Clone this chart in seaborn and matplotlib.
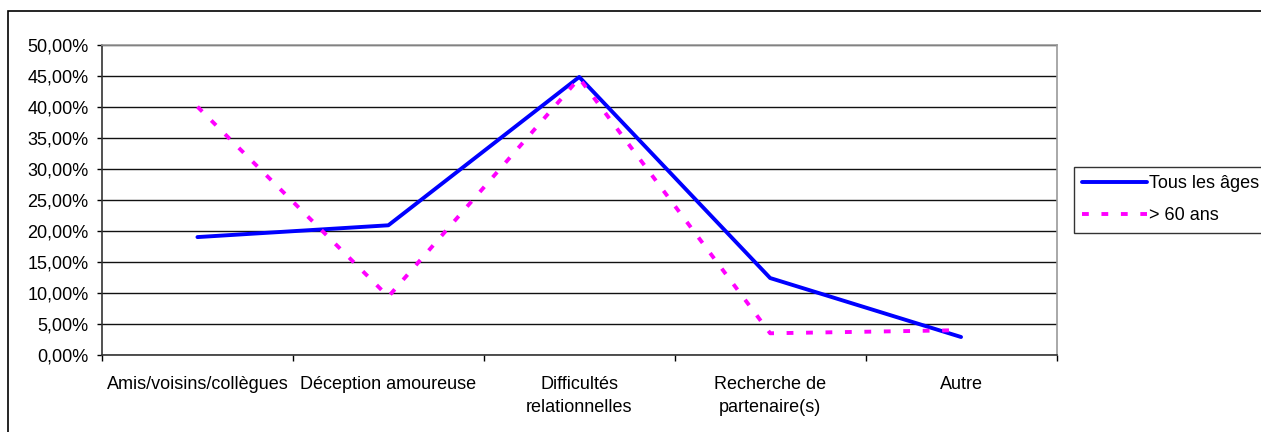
import numpy as np
import pandas as pd
import seaborn as sns
import matplotlib.pyplot as plt
from matplotlib.patches import Rectangle
from matplotlib.ticker import FuncFormatter, FixedLocator, NullFormatter

categories = ["Amis/voisins/collègues", "Déception amoureuse", "Difficultés\nrelationnelles",
              "Recherche de\npartenaire(s)", "Autre"]
tous_ages = [19.0, 20.9, 44.8, 12.4, 2.9]
plus_60 = [40.0, 9.4, 44.6, 3.5, 4.0]
series_names = ["Tous les âges", "> 60 ans"]

sns.set_style("white")
plt.rcParams['font.family'] = ['Liberation Sans', 'DejaVu Sans']
plt.rcParams['font.size'] = 13
plt.rcParams['text.color'] = 'black'
plt.rcParams['xtick.color'] = 'black'
plt.rcParams['ytick.color'] = 'black'

fig = plt.figure(figsize=(12.61, 4.32), dpi=100)
ax = fig.add_axes([102 / 1261, 1 - 355 / 432, (1056.5 - 102) / 1261, (355 - 44.7) / 432])

x = np.arange(len(categories))
df = pd.DataFrame({"x": x, "tous": tous_ages, "plus60": plus_60})

sns.lineplot(data=df, x="x", y="tous", ax=ax, color="#0000ff", linewidth=2.8,
             label=series_names[0], sort=False)
sns.lineplot(data=df, x="x", y="plus60", ax=ax, color="#ff00ff", linewidth=2.8,
             label=series_names[1], sort=False)
ax.lines[1].set_linestyle((0, (1.75, 3.25)))

ax.set_xlim(-0.5, len(categories) - 0.5)
ax.set_ylim(0, 50)
ax.set_xlabel("")
ax.set_ylabel("")

# category boundaries get the tick marks, labels sit at the centres
ax.xaxis.set_major_locator(FixedLocator(np.arange(-0.5, len(categories), 1.0)))
ax.xaxis.set_major_formatter(NullFormatter())
ax.xaxis.set_minor_locator(FixedLocator(x))
ax.set_xticklabels(categories, minor=True, linespacing=1.45)
ax.tick_params(axis="x", which="major", direction="out", length=4.3, width=1, color="black", bottom=True)
ax.tick_params(axis="x", which="minor", length=0, pad=15, labelsize=13)

ax.set_yticks(np.arange(0, 51, 5))
ax.yaxis.set_major_formatter(FuncFormatter(lambda v, p: f"{v:.2f}%".replace(".", ",")))
ax.tick_params(axis="y", direction="out", length=3.6, width=1, color="black", left=True, pad=6, labelsize=13)

ax.grid(axis="y", color="#111111", linewidth=1)
ax.grid(axis="x", visible=False)
ax.set_axisbelow(True)
for side in ["top", "right"]:
    ax.spines[side].set_color("#999999")
    ax.spines[side].set_linewidth(1.2)
for side in ["left", "bottom"]:
    ax.spines[side].set_color("#333333")
    ax.spines[side].set_linewidth(1.2)

leg = ax.legend(loc="upper left", bbox_to_anchor=(1074 / 1261, 1 - 167 / 432),
                bbox_transform=fig.transFigure, frameon=True, fancybox=False,
                edgecolor="black", handlelength=3.6, handletextpad=0.1,
                borderpad=0.45, labelspacing=0.85, fontsize=13, borderaxespad=0)
leg.get_frame().set_linewidth(1)

# outer chart frame, cut off at right and bottom like the original
fig.patches.append(Rectangle((7.5 / 1261, -0.2), 1.5, 1.2 - 11 / 432, transform=fig.transFigure,
                             fill=False, edgecolor="black", linewidth=1.2))

fig.savefig("out.png", dpi=100)
